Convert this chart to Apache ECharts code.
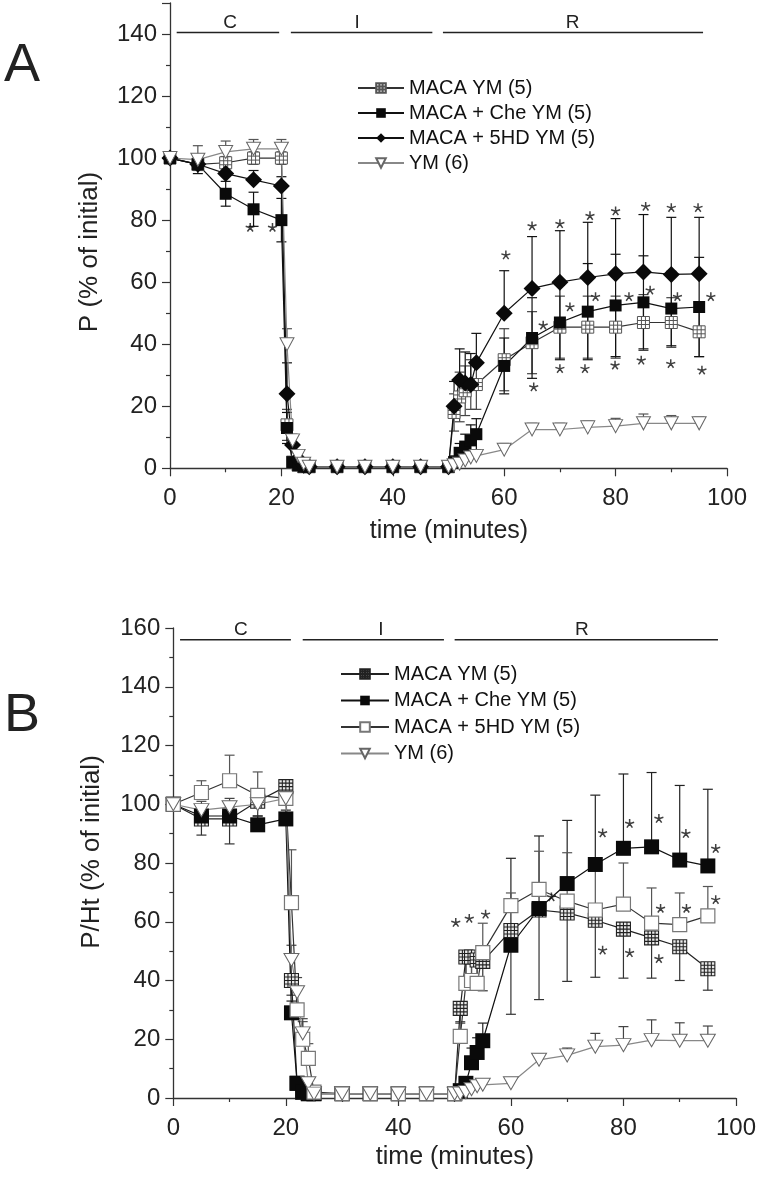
<!DOCTYPE html>
<html><head><meta charset="utf-8">
<script src="https://cdn.jsdelivr.net/npm/echarts@6/dist/echarts.min.js"></script>
<style>html,body{margin:0;padding:0;background:#fff}#c{width:759px;height:1180px}</style>
</head><body><div id="c"></div>
<script>
// ---------- data ----------
const times = [0,5,10,15,20,21,22,23,24,25,30,35,40,45,50,51,52,53,54,55,60,65,70,75,80,85,90,95];
const xTicks = [0,20,40,60,80,100];

// Panel A : P (% of initial)
const aMacaYM    = [100,98,98.5,100,100,14,2,1,0.5,0.5,0.5,0.5,0.5,0.5,0.5,18,23,25,27,27,35,40.5,45.5,45.5,45.5,47,47,44];
const aMacaYMErr = [0,2,2,2,2,5,1,0,0,0,0,0,0,0,0,6,8,8,8,8,10,10,10,10,10,9,8,8];
const aChe       = [100,98,88.5,83.5,80,13,2,1,0.5,0.5,0.5,0.5,0.5,0.5,0.5,2,5,7,9,11,33,42,47,50.5,52.5,53.5,51.5,52];
const aCheErr    = [0,3,4,5.5,7,5,1,0,0,0,0,0,0,0,0,2,3,4,5,5,9,13,12,15.5,16.5,15,12,16];
const a5hd       = [100,98,95,93,91,24,7.5,3,1,0.5,0.5,0.5,0.5,0.5,0.5,20,28.5,27.5,27,34,50,58,60,61.5,62.7,63.3,62.5,62.7];
const a5hdErr    = [0,3,3,3,3,10,3,1,0,0,0,0,0,0,0,8,10,10,10,9.5,13.7,16.7,16.6,17.8,17.8,18.5,18.4,18.2];
const aYM        = [100,99.5,102,103,103,40,9,4,1.5,0.5,0.5,0.5,0.5,0.5,0.5,1,1.5,2.5,3.5,4,6,12.5,12.5,13.2,13.6,14.5,14.5,14.5];
const aYMErr     = [0,4.5,3.5,3,3,5,2,1,0,0,0,0,0,0,0,0,0,0,0,1,2,2,2,2,2.5,3,2.5,2];
const aYTicks = [0,20,40,60,80,100,120,140];
const starsAX = [14.4,18.4,60.3,65,70,75.4,80,85.4,90,94.8,65.3,70,74.5,79.9,84.6,89.9,95.5,67,71.8,76.4,82.4,86.2,91.1,97.1];
const starsAY = [77.7,77.7,68.8,78.2,78.9,81.5,83,84.5,84.1,84.1,26.3,32.2,32.2,33.3,34.9,33.8,31.7,46.2,52.1,55.4,55.4,57.5,55.4,55.4];

// Panel B : P/Ht (% of initial)
const bMacaYM    = [100,95,95,101,106,40,5,2,1.5,1.5,1.5,1.5,1.5,1.5,1.5,30.5,48,48,47,46.5,57,64,63,60.5,57.5,54.5,51.5,44];
const bMacaYMErr = [0,5.5,8.5,5,4,5,2,1,0,0,0,0,0,0,0,5,10,10,10,10,28.5,30.5,23.3,19.4,16.7,13.7,11.5,7.3];
const bChe       = [100,96,96,93,95,29,5,2,1.5,1.5,1.5,1.5,1.5,1.5,1.5,2.5,5,12,15.5,19.5,52,64.5,73,79.5,85,85.5,81,79];
const bCheErr    = [0,3,3,3,3,4,2,1,0,0,0,0,0,0,0,1,2,5,5,6,29.6,24.7,21.5,23.6,25.3,25.3,25.4,26.1];
const b5hd       = [100,104,108,103,102,66.5,30,20,13.5,2,1.5,1.5,1.5,1.5,1.5,21,39,40,39,49.5,65.5,71,67,64,66,59.5,59,62];
const b5hdErr    = [0,4,8.7,8,6,18,8,6,5,1,0,0,0,0,0,5,10,10,10,10,4.3,13,16.5,14,14,12,10.8,10];
const bYM        = [100,98,99,100,102,47,36,22,5,1.5,1.5,1.5,1.5,1.5,1.5,1.5,2,3,4,4.5,5,13,14.5,17.5,18,19.7,19.5,19.5];
const bYMErr     = [0,3,3,3,3,5,5,5,2,0,0,0,0,0,0,0,0,0,0,1,1.5,2,2.5,4.5,6.3,6.9,6.1,5];
const bYTicks = [0,20,40,60,80,100,120,140,160];
const starsBX = [76.3,81.1,86.3,91.1,96.4,67.2,86.6,91.2,96.4,76.3,81.1,86.3,50.2,52.6,55.5];
const starsBY = [90.3,93.5,95.2,90.1,85,68.5,64.6,64.6,67.6,50.4,49.5,47.5,59.8,61.2,62.6];

// phases
const phaseLabels = ['C','I','R'];
const phaseStartA = [1.2,21.7,49.0];
const phaseEndA   = [19.6,47.1,95.7];
const phaseLabelXA = [10.8,33.6,72.3];
const phaseLevelA = 140.5;
const phaseStartB = [1.2,23.0,50.0];
const phaseEndB   = [20.9,48.1,96.8];
const phaseLabelXB = [12.0,36.9,72.6];
const phaseLevelB = 156;

const namesA = ['MACA YM (5)','MACA + Che YM (5)','MACA + 5HD YM (5)','YM (6)'];
const namesB = ['MACA YM (5) ','MACA + Che YM (5) ','MACA + 5HD YM (5) ','YM (6) '];

// ---------- styling ----------
const FONT = 'Liberation Sans, Arial, sans-serif';
const AX = '#333';
const gridSym3 = 'path://M0 0 H12 V12 H0 Z M4 0 V12 M8 0 V12 M0 4 H12 M0 8 H12';
const gridSym4 = 'path://M0 0 H12 V12 H0 Z M3 0 V12 M6 0 V12 M9 0 V12 M0 3 H12 M0 6 H12 M0 9 H12';
const triDown = 'path://M0 0 L10 0 L5 9 Z';
const starSym = 'path://M5 5 L5 0 M5 5 L9.76 3.45 M5 5 L7.94 9.05 M5 5 L2.06 9.05 M5 5 L0.24 3.45';

function lineSeries(name, gi, vals, symbol, size, itemStyle, lineColor) {
  return {type:'line', name, xAxisIndex:gi, yAxisIndex:gi,
    data: times.map((t,i)=>[t, vals[i]]), symbol, symbolSize:size, showAllSymbol:true,
    itemStyle, lineStyle:{color:lineColor, width:1.2}, z:3, clip:false, animation:false};
}
function errSeries(gi, vals, errs, dir, color) {
  return {type:'custom', xAxisIndex:gi, yAxisIndex:gi, z:2, silent:true, animation:false,
    data: times.map((t,i)=>[t, vals[i], errs[i]]).filter(d=>d[2]>0),
    renderItem(params, api) {
      const x = api.value(0), y = api.value(1), e = api.value(2);
      const hi = api.coord([x, dir==='down' ? y : y+e]);
      const lo = api.coord([x, dir==='up' ? y : y-e]);
      const st = {stroke:color, lineWidth:1.2};
      const ch = [{type:'line', shape:{x1:hi[0],y1:hi[1],x2:lo[0],y2:lo[1]}, style:st}];
      if (dir!=='down') ch.push({type:'line', shape:{x1:hi[0]-5,y1:hi[1],x2:hi[0]+5,y2:hi[1]}, style:st});
      if (dir!=='up') ch.push({type:'line', shape:{x1:lo[0]-5,y1:lo[1],x2:lo[0]+5,y2:lo[1]}, style:st});
      return {type:'group', children:ch};
    }};
}
function starSeries(gi, xs, ys) {
  return {type:'scatter', xAxisIndex:gi, yAxisIndex:gi, silent:true, z:4, animation:false,
    data: xs.map((x,i)=>[x, ys[i]]), symbol:starSym, symbolSize:9, symbolKeepAspect:true,
    itemStyle:{color:'none', borderColor:'#111', borderWidth:1.5}};
}
function phaseSeries(gi, starts, ends, labelXs, level) {
  return {type:'custom', xAxisIndex:gi, yAxisIndex:gi, silent:true, z:5, animation:false, clip:false,
    data: starts.map((s,i)=>[s, ends[i], level, labelXs[i], i]),
    renderItem(params, api) {
      const p1 = api.coord([api.value(0), api.value(2)]);
      const p2 = api.coord([api.value(1), api.value(2)]);
      const pl = api.coord([api.value(3), api.value(2)]);
      return {type:'group', children:[
        {type:'line', shape:{x1:p1[0],y1:p1[1],x2:p2[0],y2:p2[1]}, style:{stroke:'#222', lineWidth:1.4}},
        {type:'text', x:pl[0], y:pl[1]-10, style:{text:phaseLabels[api.value(4)], fontSize:19, fontFamily:FONT, fill:'#222', align:'center', verticalAlign:'middle'}}
      ]};
    }};
}
function xAxis(gi) {
  return {type:'value', gridIndex:gi, min:0, max:100, interval:20,
    axisLine:{lineStyle:{color:AX, width:1.3}}, axisTick:{length:8, lineStyle:{color:AX, width:1.2}},
    minorTick:{show:true, splitNumber:2, length:4, lineStyle:{color:AX, width:1.2}},
    splitLine:{show:false}, minorSplitLine:{show:false},
    axisLabel:{fontSize:24, fontFamily:FONT, color:'#222', margin:18}};
}
function yAxis(gi, max) {
  return {type:'value', gridIndex:gi, min:0, max, interval:20,
    axisLine:{show:true, lineStyle:{color:AX, width:1.3}}, axisTick:{show:true, length:8, lineStyle:{color:AX, width:1.2}},
    minorTick:{show:true, splitNumber:2, length:4, lineStyle:{color:AX, width:1.2}},
    splitLine:{show:false}, minorSplitLine:{show:false},
    axisLabel:{fontSize:24, fontFamily:FONT, color:'#222', margin:13, showMaxLabel: max===160}};
}
function txt(text, x, y, size, rot) {
  return {type:'text', x, y, rotation: rot||0, silent:true,
    style:{text, fontSize:size, fontFamily:FONT, fill:'#222', align:'center', verticalAlign:'middle'}};
}

const whiteGray = {color:'#fff', borderColor:'#555', borderWidth:1};
const option = {
  backgroundColor:'#fff', animation:false,
  grid:[{left:170, right:32, top:3, height:465.3}, {left:173.3, right:23, top:628, height:470}],
  xAxis:[xAxis(0), xAxis(1)],
  yAxis:[yAxis(0,150), yAxis(1,160)],
  legend:[
    {data:namesA, orient:'vertical', left:357, top:78, padding:0, itemWidth:46, itemHeight:12, itemGap:5,
     textStyle:{fontSize:20, fontFamily:FONT, color:'#111', lineHeight:20}},
    {data:namesB, orient:'vertical', left:340, top:664, padding:0, itemWidth:48, itemHeight:12, itemGap:6.5,
     textStyle:{fontSize:20, fontFamily:FONT, color:'#111', lineHeight:20}}
  ],
  graphic:[
    txt('A', 22, 66, 54), txt('B', 22, 716, 54),
    txt('P (% of initial)', 90, 252, 26, Math.PI/2),
    txt('P/Ht (% of initial)', 92, 852, 26, Math.PI/2),
    txt('time (minutes)', 449, 531, 25),
    txt('time (minutes)', 455, 1157, 25)
  ],
  series:[
    // A
    errSeries(0, aMacaYM, aMacaYMErr, 'both', '#444'),
    errSeries(0, aChe, aCheErr, 'both', '#111'),
    errSeries(0, a5hd, a5hdErr, 'up', '#111'),
    errSeries(0, aYM, aYMErr, 'up', '#555'),
    lineSeries(namesA[0], 0, aMacaYM, gridSym3, 12, whiteGray, '#333'),
    lineSeries(namesA[1], 0, aChe, 'rect', 12, {color:'#0a0a0a'}, '#111'),
    lineSeries(namesA[2], 0, a5hd, 'diamond', 17, {color:'#0a0a0a'}, '#111'),
    lineSeries(namesA[3], 0, aYM, triDown, [14,13], {color:'#fff', borderColor:'#666', borderWidth:1}, '#888'),
    starSeries(0, starsAX, starsAY),
    phaseSeries(0, phaseStartA, phaseEndA, phaseLabelXA, phaseLevelA),
    // B
    errSeries(1, bMacaYM, bMacaYMErr, 'down', '#333'),
    errSeries(1, bChe, bCheErr, 'up', '#222'),
    errSeries(1, b5hd, b5hdErr, 'up', '#555'),
    errSeries(1, bYM, bYMErr, 'up', '#444'),
    lineSeries(namesB[0], 1, bMacaYM, gridSym4, 14, {color:'#e8e8e8', borderColor:'#222', borderWidth:1.1}, '#222'),
    lineSeries(namesB[1], 1, bChe, 'rect', 15, {color:'#0a0a0a'}, '#111'),
    lineSeries(namesB[2], 1, b5hd, 'rect', 14, {color:'#fff', borderColor:'#777', borderWidth:1.2}, '#333'),
    lineSeries(namesB[3], 1, bYM, triDown, [15,13], {color:'#fff', borderColor:'#666', borderWidth:1}, '#888'),
    starSeries(1, starsBX, starsBY),
    phaseSeries(1, phaseStartB, phaseEndB, phaseLabelXB, phaseLevelB)
  ]
};
const chart = echarts.init(document.getElementById('c'), null, {renderer:'canvas'});
chart.setOption(option);
</script>
</body></html>
